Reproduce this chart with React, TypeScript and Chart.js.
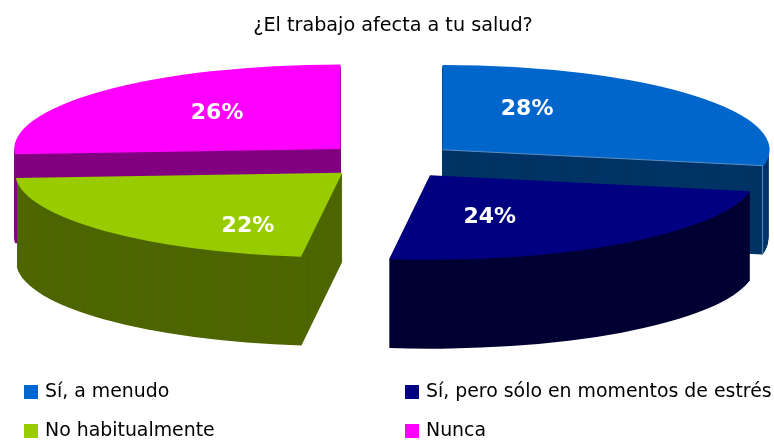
import React, { useEffect, useRef } from "react";
import { Chart, registerables } from "chart.js";

Chart.register(...registerables);

const titleText = "¿El trabajo afecta a tu salud?";
const categories = ["Sí, a menudo", "Sí, pero sólo en momentos de estrés", "No habitualmente", "Nunca"];
const values = [28, 24, 22, 26];
const topColors = ["#0066CC", "#000080", "#99CC00", "#FF00FF"];
const sideColors = ["#003366", "#000033", "#4D6600", "#800080"];
const edgeColors = ["#5A8FC4", null, null, null];
const explode = [272, 272, 262, 272];
const labelShiftX = [-71, -59, 53, 24];
const labelShiftY = [-7, 0, 18, 0];
const legendOrder = [0, 1, 2, 3];
const legendColumnX = [24, 405];
const legendRowY = [392, 431];

const FONT = '"DejaVu Sans", sans-serif';
const RADIUS = 326;
const SQUASH = 84.5 / 326;
const DEPTH = 89;

function flatten(ctx: CanvasRenderingContext2D, cy: number) {
  ctx.translate(0, cy);
  ctx.scale(1, SQUASH);
  ctx.translate(0, -cy);
}

const pie3d = {
  id: "pie3d",
  afterLayout(chart: any) {
    if (chart.titleBlock) chart.titleBlock.left += 6;
  },
  beforeDatasetsDraw(chart: any) {
    const ctx: CanvasRenderingContext2D = chart.ctx;
    const arcs: any[] = chart.getDatasetMeta(0).data;
    const order = arcs
      .map((arc, i) => ({ arc, i, half: (arc.startAngle + arc.endAngle) / 2 }))
      .sort((a, b) => Math.sin(a.half) - Math.sin(b.half));
    for (const { arc, i, half } of order) {
      const shift = (arc.options.offset || 0) / 4;
      const x = arc.x + Math.cos(half) * shift;
      const y = arc.y + Math.sin(half) * shift;
      ctx.save();
      ctx.fillStyle = sideColors[i];
      for (let d = DEPTH; d >= 1; d--) {
        ctx.save();
        ctx.translate(0, d);
        flatten(ctx, arc.y);
        ctx.beginPath();
        ctx.moveTo(x, y);
        ctx.arc(x, y, arc.outerRadius, arc.startAngle, arc.endAngle);
        ctx.closePath();
        ctx.fill();
        ctx.restore();
      }
      ctx.restore();
    }
    ctx.save();
    flatten(ctx, arcs[0].y);
  },
  afterDatasetsDraw(chart: any) {
    const ctx: CanvasRenderingContext2D = chart.ctx;
    ctx.restore();
    const arcs: any[] = chart.getDatasetMeta(0).data;
    const total = values.reduce((a, b) => a + b, 0);
    ctx.save();
    arcs.forEach((arc, i) => {
      const edge = edgeColors[i];
      if (!edge) return;
      const half = (arc.startAngle + arc.endAngle) / 2;
      const shift = (arc.options.offset || 0) / 4;
      const x = arc.x + Math.cos(half) * shift;
      const y = arc.y + Math.sin(half) * shift * SQUASH;
      const ex = x + Math.cos(arc.endAngle) * arc.outerRadius;
      const ey = y + Math.sin(arc.endAngle) * arc.outerRadius * SQUASH;
      ctx.strokeStyle = edge;
      ctx.lineWidth = 1;
      ctx.beginPath();
      ctx.moveTo(x, y);
      ctx.lineTo(ex, ey);
      ctx.lineTo(ex, ey + DEPTH);
      ctx.stroke();
    });
    ctx.fillStyle = "#FFFFFF";
    ctx.font = 'bold 22px "DejaVu Sans", sans-serif';
    ctx.textAlign = "center";
    ctx.textBaseline = "middle";
    arcs.forEach((arc, i) => {
      const half = (arc.startAngle + arc.endAngle) / 2;
      const shift = (arc.options.offset || 0) / 4;
      const r = arc.outerRadius * 0.62 + shift;
      const x = arc.x + Math.cos(half) * r + labelShiftX[i];
      const y = arc.y + Math.sin(half) * r * SQUASH + labelShiftY[i];
      ctx.fillText(Math.round((values[i] / total) * 100) + "%", x, y);
    });
    ctx.restore();
  },
  afterDraw(chart: any) {
    const ctx: CanvasRenderingContext2D = chart.ctx;
    ctx.save();
    ctx.font = "18.9px " + FONT;
    ctx.textBaseline = "middle";
    ctx.textAlign = "left";
    legendOrder.forEach((idx, n) => {
      const x = legendColumnX[n % 2];
      const y = legendRowY[Math.floor(n / 2)];
      ctx.fillStyle = topColors[idx];
      ctx.fillRect(x, y - 7, 14, 14);
      ctx.fillStyle = "#000000";
      ctx.fillText(categories[idx], x + 21, y);
    });
    ctx.restore();
  },
};

export default function App() {
  const ref = useRef<HTMLCanvasElement | null>(null);
  useEffect(() => {
    document.body.style.margin = "0";
    const chart = new Chart(ref.current!, {
      type: "pie",
      data: {
        labels: categories,
        datasets: [
          {
            data: values,
            backgroundColor: topColors,
            borderWidth: 0,
            offset: explode,
            clip: false,
          } as any,
        ],
      },
      options: {
        responsive: false,
        animation: false,
        events: [],
        radius: RADIUS,
        cutout: "0%",
        layout: { padding: { left: 6, right: 0, top: 0, bottom: 170 } },
        plugins: {
          legend: { display: false },
          tooltip: { enabled: false },
          title: {
            display: true,
            text: titleText,
            color: "#000000",
            font: { family: FONT, size: 19.2, weight: "normal" },
            padding: { top: 14, bottom: 14 },
          },
        },
      } as any,
      plugins: [pie3d],
    });
    return () => chart.destroy();
  }, []);
  return <canvas ref={ref} width={774} height={441} style={{ display: "block" }} />;
}
